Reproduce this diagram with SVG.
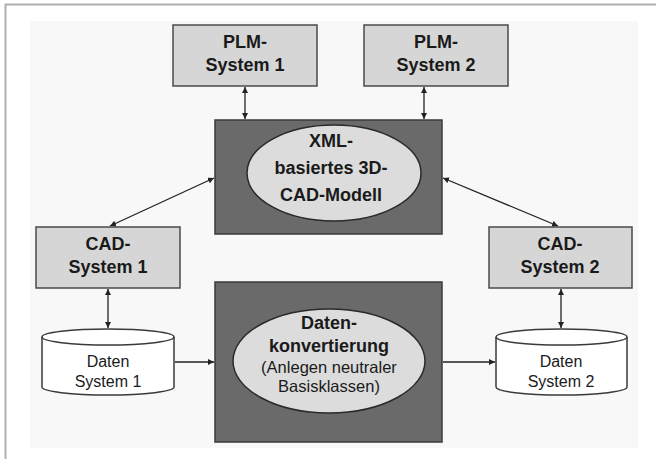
<svg xmlns="http://www.w3.org/2000/svg" width="656" height="459" viewBox="0 0 656 459">
  <style>
    .light { fill: #d6d6d6; stroke: #4a4a4a; stroke-width: 1.5; }
    .dark { fill: #6a6a6a; stroke: #3a3a3a; stroke-width: 1.5; }
    .ell { fill: #dcdcdc; stroke: #2a2a2a; stroke-width: 1.5; }
    .cyl { fill: #ffffff; stroke: #3a3a3a; stroke-width: 1.5; }
    .b { font-family: "Liberation Sans", Arial, sans-serif; font-weight: bold; font-size: 18px; fill: #1a1a1a; text-anchor: middle; }
    .r { font-family: "Liberation Sans", Arial, sans-serif; font-size: 16px; fill: #1a1a1a; text-anchor: middle; }
    .r2 { font-family: "Liberation Sans", Arial, sans-serif; font-size: 16.5px; fill: #1a1a1a; text-anchor: middle; }
    .conn line { stroke: #222; stroke-width: 1.3; }
  </style>
  <defs>
    <marker id="ah" viewBox="0 0 10 10" refX="10" refY="5" markerWidth="6" markerHeight="6" markerUnits="userSpaceOnUse" orient="auto-start-reverse">
      <path d="M0,0 L10,5 L0,10 z" fill="#222"/>
    </marker>
  </defs>

  <rect x="0" y="0" width="656" height="459" fill="#ffffff"/>
  <rect x="30" y="21" width="608" height="427" fill="#f8f8f8"/>
  <path d="M5.5,459 L5.5,4.5 L656,4.5" fill="none" stroke="#b0b0b0" stroke-width="2"/>

  <g id="plm1">
    <rect class="light" x="173" y="25" width="144" height="61"/>
    <text class="b" x="245" y="48">PLM-</text>
    <text class="b" x="245" y="71">System 1</text>
  </g>
  <g id="plm2">
    <rect class="light" x="364" y="25" width="144" height="61"/>
    <text class="b" x="436" y="48">PLM-</text>
    <text class="b" x="436" y="71">System 2</text>
  </g>
  <g id="xml">
    <rect class="dark" x="215" y="120" width="227" height="114"/>
    <ellipse class="ell" cx="334" cy="173" rx="87" ry="48"/>
    <text class="b" x="331" y="147">XML-</text>
    <text class="b" x="331" y="174">basiertes 3D-</text>
    <text class="b" x="331" y="201">CAD-Modell</text>
  </g>
  <g id="cad1">
    <rect class="light" x="36" y="227" width="144" height="61"/>
    <text class="b" x="108" y="250">CAD-</text>
    <text class="b" x="108" y="273">System 1</text>
  </g>
  <g id="cad2">
    <rect class="light" x="489" y="227" width="143" height="61"/>
    <text class="b" x="560" y="250">CAD-</text>
    <text class="b" x="560" y="273">System 2</text>
  </g>
  <g id="konv">
    <rect class="dark" x="215" y="282" width="227" height="160"/>
    <ellipse class="ell" cx="329" cy="361" rx="96" ry="52"/>
    <text class="b" x="329" y="329">Daten-</text>
    <text class="b" x="329" y="352">konvertierung</text>
    <text class="r2" x="329" y="373">(Anlegen neutraler</text>
    <text class="r2" x="329" y="392">Basisklassen)</text>
  </g>
  <g id="daten1">
    <path class="cyl" d="M42,337 A66,8 0 0 1 174,337 L174,387 A66,8 0 0 1 42,387 Z"/>
    <path d="M42,337 A66,8 0 0 0 174,337" fill="none" stroke="#3a3a3a" stroke-width="1.5"/>
    <text class="r" x="108" y="367">Daten</text>
    <text class="r" x="108" y="387">System 1</text>
  </g>
  <g id="daten2">
    <path class="cyl" d="M496,337 A65.5,8 0 0 1 627,337 L627,387 A65.5,8 0 0 1 496,387 Z"/>
    <path d="M496,337 A65.5,8 0 0 0 627,337" fill="none" stroke="#3a3a3a" stroke-width="1.5"/>
    <text class="r" x="561" y="367">Daten</text>
    <text class="r" x="561" y="387">System 2</text>
  </g>

  <g id="connectors" class="conn">
    <line x1="245" y1="87" x2="245" y2="119" marker-start="url(#ah)" marker-end="url(#ah)"/>
    <line x1="424" y1="87" x2="424" y2="119" marker-start="url(#ah)" marker-end="url(#ah)"/>
    <line x1="214" y1="178" x2="110" y2="226" marker-start="url(#ah)" marker-end="url(#ah)"/>
    <line x1="443" y1="178" x2="558" y2="226" marker-start="url(#ah)" marker-end="url(#ah)"/>
    <line x1="108" y1="289" x2="108" y2="328" marker-start="url(#ah)" marker-end="url(#ah)"/>
    <line x1="561" y1="289" x2="561" y2="328" marker-start="url(#ah)" marker-end="url(#ah)"/>
    <line x1="175" y1="362" x2="214" y2="362" marker-end="url(#ah)"/>
    <line x1="443" y1="362" x2="495" y2="362" marker-end="url(#ah)"/>
  </g>
</svg>
